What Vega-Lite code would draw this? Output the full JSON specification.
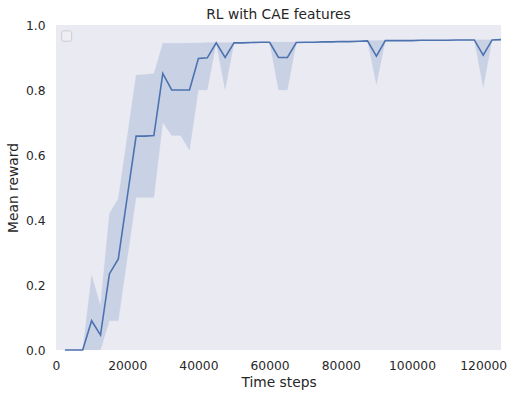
{
  "$schema": "https://vega.github.io/schema/vega-lite/v6.json",
  "width": 445,
  "height": 325,
  "autosize": {"type": "none"},
  "padding": {"left": 56, "top": 25, "right": 13, "bottom": 48},
  "background": "white",
  "config": {
    "view": {"fill": "#EAEAF2", "stroke": null},
    "font": "DejaVu Sans",
    "axis": {
      "grid": false, "domain": false, "ticks": false, "tickSize": 0,
      "labelColor": "#262626", "titleColor": "#262626",
      "labelFontSize": 12.3, "titleFontSize": 13.8, "titleFontWeight": "normal",
      "labelFont": "DejaVu Sans", "titleFont": "DejaVu Sans"
    },
    "title": {"font": "DejaVu Sans", "fontSize": 13.8, "fontWeight": "normal", "color": "#262626", "offset": -3, "frame": "group"}
  },
  "title": "RL with CAE features",
  "data": {
    "values": [
      {"step": 2500, "mean": 0, "lo": 0, "hi": 0},
      {"step": 5000, "mean": 0, "lo": 0, "hi": 0},
      {"step": 7500, "mean": 0, "lo": 0, "hi": 0},
      {"step": 10000, "mean": 0.09, "lo": 0, "hi": 0.231},
      {"step": 12500, "mean": 0.046, "lo": 0, "hi": 0.137},
      {"step": 15000, "mean": 0.234, "lo": 0.09, "hi": 0.42},
      {"step": 17500, "mean": 0.28, "lo": 0.09, "hi": 0.466},
      {"step": 20000, "mean": 0.47, "lo": 0.28, "hi": 0.656},
      {"step": 22500, "mean": 0.658, "lo": 0.469, "hi": 0.846},
      {"step": 25000, "mean": 0.658, "lo": 0.469, "hi": 0.848},
      {"step": 27500, "mean": 0.66, "lo": 0.469, "hi": 0.851},
      {"step": 30000, "mean": 0.851, "lo": 0.70, "hi": 0.944},
      {"step": 32500, "mean": 0.80, "lo": 0.66, "hi": 0.944},
      {"step": 35000, "mean": 0.80, "lo": 0.66, "hi": 0.944},
      {"step": 37500, "mean": 0.80, "lo": 0.615, "hi": 0.945},
      {"step": 40000, "mean": 0.897, "lo": 0.80, "hi": 0.945},
      {"step": 42500, "mean": 0.899, "lo": 0.80, "hi": 0.946},
      {"step": 45000, "mean": 0.945, "lo": 0.944, "hi": 0.946},
      {"step": 47500, "mean": 0.90, "lo": 0.80, "hi": 0.946},
      {"step": 50000, "mean": 0.945, "lo": 0.944, "hi": 0.946},
      {"step": 52500, "mean": 0.945, "lo": 0.944, "hi": 0.947},
      {"step": 55000, "mean": 0.946, "lo": 0.945, "hi": 0.947},
      {"step": 57500, "mean": 0.947, "lo": 0.946, "hi": 0.948},
      {"step": 60000, "mean": 0.947, "lo": 0.946, "hi": 0.948},
      {"step": 62500, "mean": 0.90, "lo": 0.80, "hi": 0.948},
      {"step": 65000, "mean": 0.90, "lo": 0.80, "hi": 0.948},
      {"step": 67500, "mean": 0.946, "lo": 0.945, "hi": 0.948},
      {"step": 70000, "mean": 0.947, "lo": 0.946, "hi": 0.948},
      {"step": 72500, "mean": 0.947, "lo": 0.946, "hi": 0.948},
      {"step": 75000, "mean": 0.948, "lo": 0.947, "hi": 0.949},
      {"step": 77500, "mean": 0.948, "lo": 0.947, "hi": 0.949},
      {"step": 80000, "mean": 0.949, "lo": 0.948, "hi": 0.950},
      {"step": 82500, "mean": 0.949, "lo": 0.948, "hi": 0.950},
      {"step": 85000, "mean": 0.950, "lo": 0.949, "hi": 0.951},
      {"step": 87500, "mean": 0.951, "lo": 0.950, "hi": 0.952},
      {"step": 90000, "mean": 0.904, "lo": 0.817, "hi": 0.952},
      {"step": 92500, "mean": 0.952, "lo": 0.951, "hi": 0.953},
      {"step": 95000, "mean": 0.952, "lo": 0.951, "hi": 0.953},
      {"step": 97500, "mean": 0.952, "lo": 0.951, "hi": 0.953},
      {"step": 100000, "mean": 0.952, "lo": 0.951, "hi": 0.953},
      {"step": 102500, "mean": 0.953, "lo": 0.952, "hi": 0.954},
      {"step": 105000, "mean": 0.953, "lo": 0.952, "hi": 0.954},
      {"step": 107500, "mean": 0.953, "lo": 0.952, "hi": 0.954},
      {"step": 110000, "mean": 0.953, "lo": 0.952, "hi": 0.954},
      {"step": 112500, "mean": 0.954, "lo": 0.953, "hi": 0.955},
      {"step": 115000, "mean": 0.954, "lo": 0.953, "hi": 0.955},
      {"step": 117500, "mean": 0.954, "lo": 0.953, "hi": 0.955},
      {"step": 120000, "mean": 0.907, "lo": 0.808, "hi": 0.955},
      {"step": 122500, "mean": 0.954, "lo": 0.953, "hi": 0.955},
      {"step": 125000, "mean": 0.955, "lo": 0.954, "hi": 0.956}
    ]
  },
  "encoding": {
    "x": {
      "field": "step", "type": "quantitative", "title": "Time steps",
      "scale": {"domain": [0, 125000], "nice": false, "zero": false},
      "axis": {"values": [0, 20000, 40000, 60000, 80000, 100000, 120000], "format": "d", "labelPadding": 9, "titlePadding": 4, "labelFlush": false}
    }
  },
  "layer": [
    {
      "mark": {"type": "area", "color": "#4C72B0", "opacity": 0.2, "stroke": "#4C72B0", "strokeOpacity": 0.15, "strokeWidth": 1},
      "encoding": {
        "y": {
          "field": "lo", "type": "quantitative", "title": "Mean reward",
          "scale": {"domain": [0, 1], "nice": false},
          "axis": {"values": [0, 0.2, 0.4, 0.6, 0.8, 1.0], "format": ".1f", "labelPadding": 11, "titlePadding": 5, "labelFlush": false}
        },
        "y2": {"field": "hi"}
      }
    },
    {
      "mark": {"type": "line", "color": "#4C72B0", "strokeWidth": 1.6},
      "encoding": {"y": {"field": "mean", "type": "quantitative"}}
    },
    {
      "data": {"values": [{"x1": 1600, "x2": 4400, "y1": 0.950, "y2": 0.982}]},
      "mark": {"type": "rect", "fill": "#EEEEF4", "stroke": "#CCCCCC", "strokeWidth": 1, "cornerRadius": 2},
      "encoding": {
        "x": {"field": "x1", "type": "quantitative"},
        "x2": {"field": "x2"},
        "y": {"field": "y1", "type": "quantitative"},
        "y2": {"field": "y2"}
      }
    }
  ]
}
